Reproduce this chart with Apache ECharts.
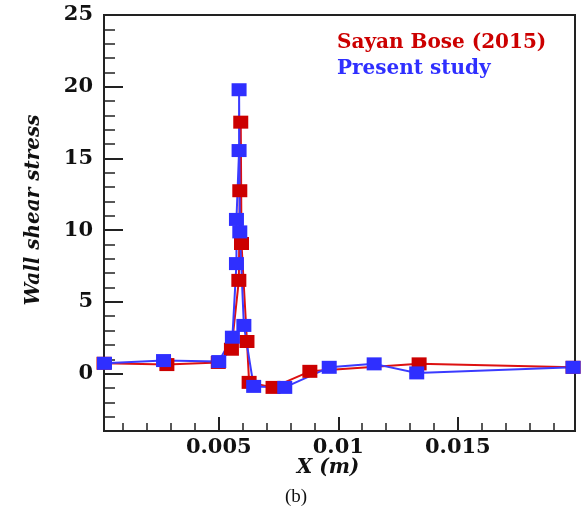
<!DOCTYPE html>
<html>
<head>
<meta charset="utf-8">
<script src="https://cdn.jsdelivr.net/npm/echarts@6/dist/echarts.min.js"></script>
<style>
html,body{margin:0;padding:0;background:#fff;}
#chart{width:583px;height:513px;}
</style>
</head>
<body>
<div id="chart"></div>
<script>
// Sayan Bose (2015)
var xRed = [0.0002, 0.00283, 0.00498, 0.00553, 0.00584, 0.00588, 0.00592, 0.00595, 0.00618, 0.00627, 0.00727, 0.00881, 0.01338, 0.01982];
var yRed = [0.72, 0.63, 0.78, 1.7, 6.5, 12.75, 17.53, 9.07, 2.24, -0.61, -0.96, 0.16, 0.68, 0.44];
// Present study
var xBlue = [0.00022, 0.00269, 0.0050, 0.00557, 0.00574, 0.00574, 0.00585, 0.00585, 0.00588, 0.00605, 0.00646, 0.00776, 0.00962, 0.0115, 0.01328, 0.01982];
var yBlue = [0.72, 0.91, 0.84, 2.54, 7.67, 10.75, 15.55, 19.79, 9.88, 3.36, -0.89, -0.96, 0.44, 0.68, 0.05, 0.44];

var xMajorTicks = [0.005, 0.01, 0.015];
var xMinorTicks = [0.001,0.002,0.003,0.004,0.006,0.007,0.008,0.009,0.011,0.012,0.013,0.014,0.016,0.017,0.018,0.019];
var yMajorTicks = [0, 5, 10, 15, 20, 25];
var yMinorTicks = [-3,-2,-1,1,2,3,4,6,7,8,9,11,12,13,14,16,17,18,19,21,22,23,24];

var seriesNames = ['Sayan Bose (2015)', 'Present study'];
var xName = 'X (m)';
var yName = 'Wall shear stress';
var caption = '(b)';

function pairs(xs, ys){ return xs.map(function(x,i){ return [x, ys[i]]; }); }

var serifFont = 'DejaVu Serif';
var chart = echarts.init(document.getElementById('chart'), null, {renderer:'canvas'});
var X_MIN = 0.0002, X_MAX = 0.0199, Y_MIN = -4, Y_MAX = 25;

chart.setOption({
  animation: false,
  backgroundColor: '#fff',
  grid: {left: 104, right: 8, top: 15, bottom: 82, show: true, borderColor: '#222', borderWidth: 2, backgroundColor: 'transparent'},
  legend: {
    orient: 'vertical', left: 327, top: 28, icon: 'none', itemWidth: 0, itemGap: 6,
    data: [
      {name: seriesNames[0], textStyle: {color: '#cc0000'}},
      {name: seriesNames[1], textStyle: {color: '#2f2fff'}}
    ],
    textStyle: {fontFamily: serifFont, fontWeight: 'bold', fontSize: 20}
  },
  xAxis: [
    {
      type: 'value', min: X_MIN, max: X_MAX, position: 'bottom',
      axisLine: {show: true, onZero: false, lineStyle: {color: '#222', width: 2}},
      axisTick: {show: true, inside: true, length: 14, customValues: xMajorTicks, lineStyle: {color: '#222', width: 2}},
      axisLabel: {show: true, customValues: xMajorTicks, margin: 6, fontFamily: serifFont, fontWeight: 'bold', fontSize: 21, color: '#111',
        formatter: function(v){ return String(+v.toFixed(4)); }},
      splitLine: {show: false}
    },
    {
      type: 'value', min: X_MIN, max: X_MAX, position: 'bottom',
      axisLine: {show: false, onZero: false},
      axisTick: {show: true, inside: true, length: 8, customValues: xMinorTicks, lineStyle: {color: '#222', width: 1.5}},
      axisLabel: {show: false},
      splitLine: {show: false}
    }
  ],
  yAxis: [
    {
      type: 'value', min: Y_MIN, max: Y_MAX, position: 'left',
      axisLine: {show: true, onZero: false, lineStyle: {color: '#222', width: 2}},
      axisTick: {show: true, inside: true, length: 19, customValues: yMajorTicks, lineStyle: {color: '#222', width: 2}},
      axisLabel: {show: true, customValues: yMajorTicks, margin: 11, fontFamily: serifFont, fontWeight: 'bold', fontSize: 21, color: '#111'},
      splitLine: {show: false}
    },
    {
      type: 'value', min: Y_MIN, max: Y_MAX, position: 'left',
      axisLine: {show: false, onZero: false},
      axisTick: {show: true, inside: true, length: 11, customValues: yMinorTicks, lineStyle: {color: '#222', width: 1.5}},
      axisLabel: {show: false},
      splitLine: {show: false}
    }
  ],
  series: [
    {
      name: seriesNames[0], type: 'line', xAxisIndex: 0, yAxisIndex: 0,
      data: pairs(xRed, yRed),
      symbol: 'rect', symbolSize: [15, 13], showAllSymbol: true,
      itemStyle: {color: '#cc0000'},
      lineStyle: {color: '#dd1111', width: 2}
    },
    {
      name: seriesNames[1], type: 'line', xAxisIndex: 0, yAxisIndex: 0,
      data: pairs(xBlue, yBlue),
      symbol: 'rect', symbolSize: [15, 13], showAllSymbol: true,
      itemStyle: {color: '#2f2fff'},
      lineStyle: {color: '#3b3bff', width: 2}
    }
  ],
  graphic: [
    {type: 'text', x: 34, y: 210, rotation: Math.PI / 2,
      style: {text: yName, font: 'italic bold 20px "DejaVu Serif"', fill: '#111', align: 'center', verticalAlign: 'middle'}},
    {type: 'text', x: 328, y: 468,
      style: {text: xName, font: 'italic bold 20px "DejaVu Serif"', fill: '#111', align: 'center', verticalAlign: 'middle'}},
    {type: 'text', x: 296, y: 497,
      style: {text: caption, font: '19px "Liberation Serif"', fill: '#111', align: 'center', verticalAlign: 'middle'}}
  ]
});
</script>
</body>
</html>
